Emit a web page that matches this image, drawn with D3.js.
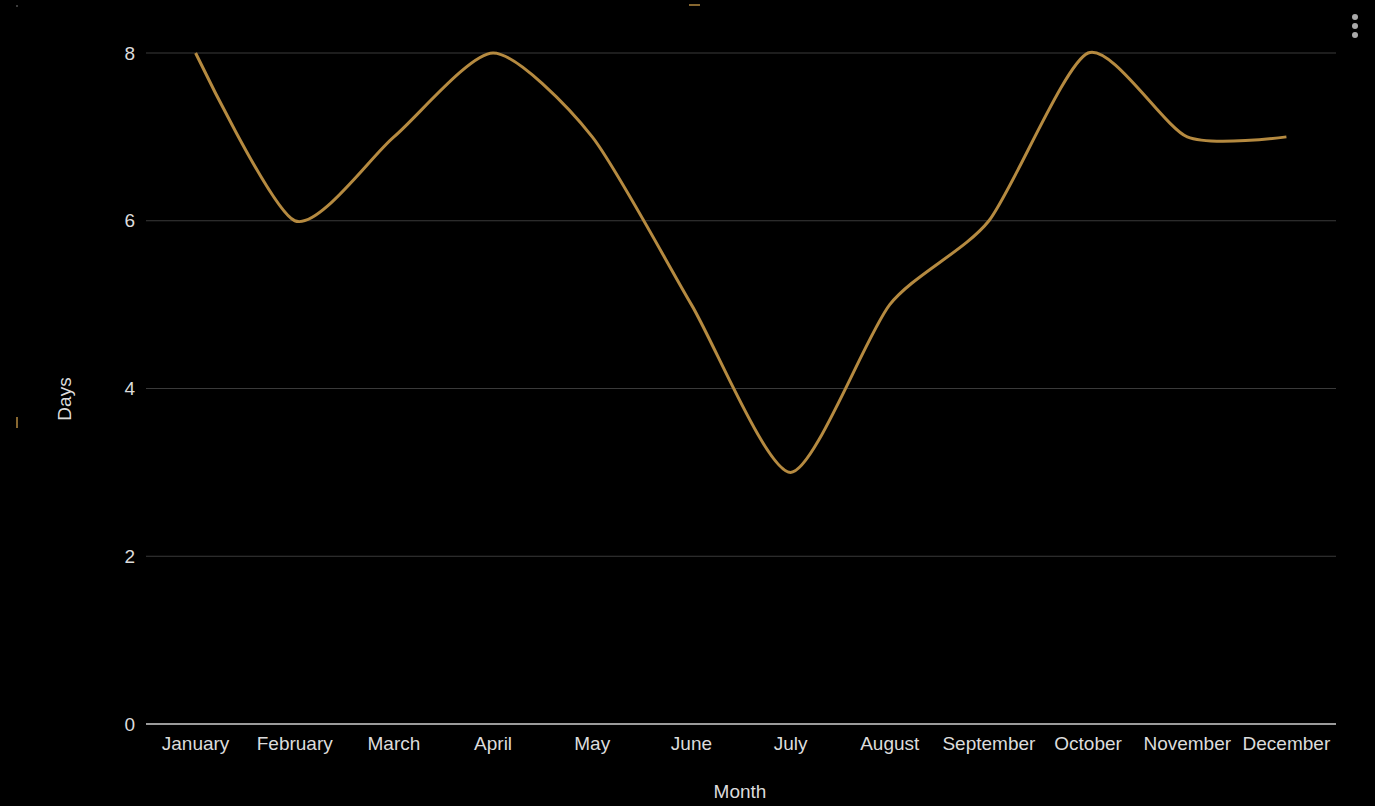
<!DOCTYPE html>
<html>
<head>
<meta charset="utf-8">
<script src="https://cdn.jsdelivr.net/npm/d3@7"></script>
<style>
  body { margin: 0; background: #000; }
  svg { display: block; font-family: "Liberation Sans", Arial, sans-serif; }
</style>
</head>
<body>
<svg id="chart" width="1375" height="806"></svg>
<script>
var months = ["January", "February", "March", "April", "May", "June", "July",
  "August", "September", "October", "November", "December"];
var days = [8, 6, 7, 8, 7, 5, 3, 5, 6, 8, 7, 7];
var yTicks = [0, 2, 4, 6, 8];

var margin = {top: 53, right: 39, bottom: 82, left: 146},
  width = 1375 - margin.left - margin.right,
  height = 806 - margin.top - margin.bottom;

var svg = d3.select("#chart");
var g = svg.append("g")
  .attr("transform", "translate(" + margin.left + "," + margin.top + ")");

var x = d3.scaleBand().domain(months).range([0, width]);
var y = d3.scaleLinear().domain([0, 8]).range([height, 0]);

// gridlines
g.append("g").selectAll("line")
  .data(yTicks.filter(function(d) { return d > 0; }))
  .enter().append("line")
  .attr("x1", 0).attr("x2", width)
  .attr("y1", function(d) { return y(d); })
  .attr("y2", function(d) { return y(d); })
  .style("stroke", "#3a3a3a").style("stroke-width", 1);

// baseline
g.append("line")
  .attr("x1", 0).attr("x2", width)
  .attr("y1", y(0)).attr("y2", y(0))
  .style("stroke", "#cfcfcf").style("stroke-width", 1.5);

// y tick labels
g.append("g").selectAll("text")
  .data(yTicks)
  .enter().append("text")
  .attr("x", -11)
  .attr("y", function(d) { return y(d); })
  .attr("dy", "0.35em")
  .attr("text-anchor", "end")
  .style("fill", "#dcdcdc").style("font-size", "19px")
  .text(function(d) { return d; });

// x tick labels
g.append("g").selectAll("text")
  .data(months)
  .enter().append("text")
  .attr("x", function(d) { return x(d) + x.bandwidth() / 2; })
  .attr("y", height + 26)
  .attr("text-anchor", "middle")
  .style("fill", "#dcdcdc").style("font-size", "19px")
  .text(function(d) { return d; });

// axis titles
svg.append("text")
  .attr("x", 740).attr("y", 798)
  .attr("text-anchor", "middle")
  .style("fill", "#dcdcdc").style("font-size", "19px")
  .text("Month");
svg.append("text")
  .attr("transform", "translate(71,399) rotate(-90)")
  .attr("text-anchor", "middle")
  .style("fill", "#dcdcdc").style("font-size", "19px")
  .text("Days");

// the line
var line = d3.line()
  .curve(d3.curveCardinal.tension(0.3))
  .x(function(d, i) { return x(months[i]) + x.bandwidth() / 2; })
  .y(function(d) { return y(d); });

g.append("path")
  .datum(days)
  .attr("d", line)
  .style("fill", "none")
  .style("stroke", "#b58a40")
  .style("stroke-width", 3);

// little decorations
svg.append("circle").attr("cx", 17).attr("cy", 6).attr("r", 0.8).style("fill", "#888");
svg.append("line").attr("x1", 689).attr("x2", 700).attr("y1", 5).attr("y2", 5)
  .style("stroke", "#b58a40").style("stroke-width", 1.5);
svg.append("line").attr("x1", 17).attr("x2", 17).attr("y1", 417).attr("y2", 428)
  .style("stroke", "#b58a40").style("stroke-width", 1.5);
svg.append("g").selectAll("circle")
  .data([17, 26, 35])
  .enter().append("circle")
  .attr("cx", 1355).attr("cy", function(d) { return d; }).attr("r", 3)
  .style("fill", "#aaa");
</script>
</body>
</html>
